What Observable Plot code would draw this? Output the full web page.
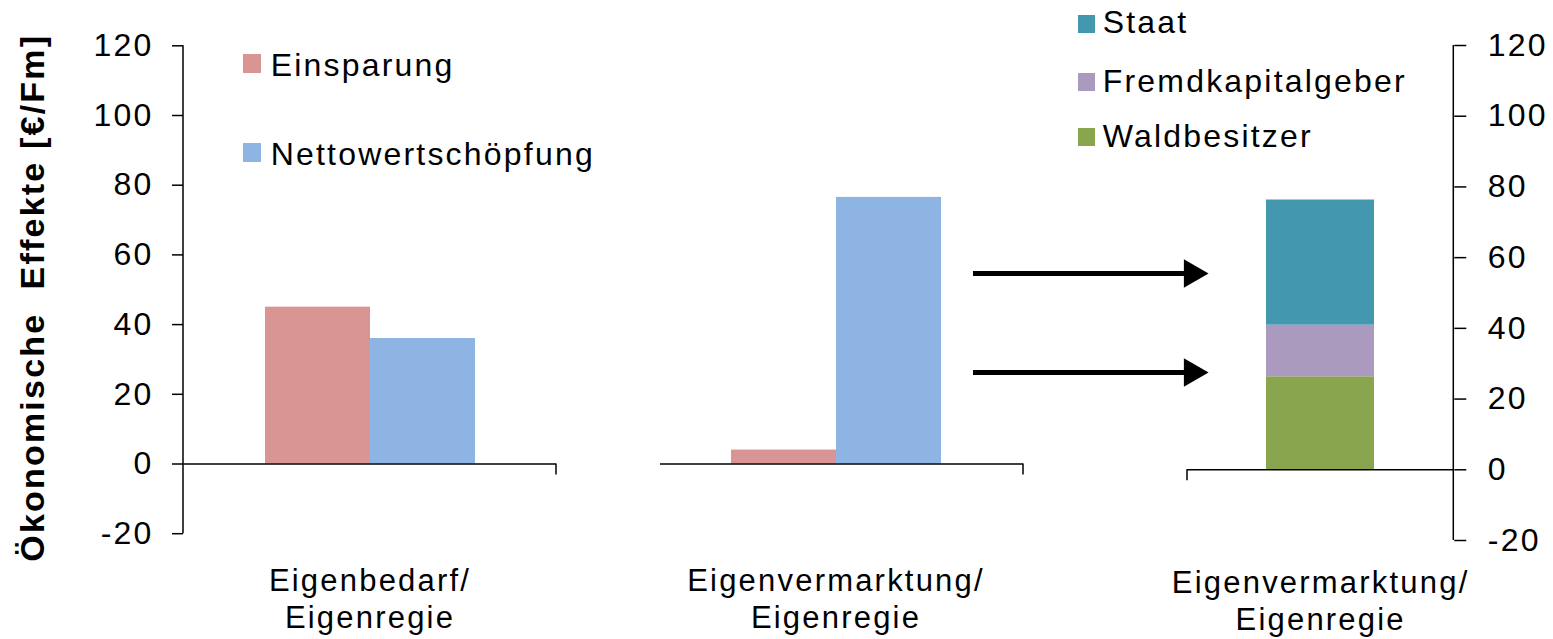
<!DOCTYPE html>
<html>
<head>
<meta charset="utf-8">
<script src="https://cdn.jsdelivr.net/npm/d3@7"></script>
<script src="https://cdn.jsdelivr.net/npm/@observablehq/plot@0.6"></script>
<style>
  body { margin: 0; background: #fff; }
  #chart { position: relative; width: 1553px; height: 639px; font-family: "Liberation Sans", Arial, sans-serif; }
  #chart svg { position: absolute; left: 0; top: 0; }
  .legend-item { position: absolute; font-size: 32px; line-height: 32px; letter-spacing: 2.2px; white-space: nowrap; color: #000; }
  .legend-item .swatch { position: absolute; }
</style>
</head>
<body>
<div id="chart"></div>
<script>
// Values in €/Fm
const yTitle = "Ökonomische  Effekte [€/Fm]";
const yTicks = [-20, 0, 20, 40, 60, 80, 100, 120];

const groupSeries = ["Einsparung", "Nettowertschöpfung"];
const groupColors = ["#d99594", "#8eb4e3"];
const groupCategories = ["Eigenbedarf/\nEigenregie", "Eigenvermarktung/\nEigenregie"];
const einsparung = [45, 4];
const nettowertschoepfung = [36, 76.5];

const shareCategory = "Eigenvermarktung/\nEigenregie";
const shareSeries = ["Waldbesitzer", "Fremdkapitalgeber", "Staat"];
const shareColors = ["#89a54e", "#aa9bbe", "#4397af"];
const shareValues = [26.3, 14.6, 35.4];

// levels at which the split of the value added is pointed out
const arrowLevels = [55.5, 27.5];

const W = 1553, H = 639;
const baseStyle = {
  fontFamily: '"Liberation Sans", Arial, sans-serif',
  fontSize: "32px",
  letterSpacing: "2.2px",
  background: "transparent",
  overflow: "visible",
  color: "#000"
};
const fmt = d => String(d);

// value axis line, plus the small category-boundary ticks below the zero line
function axisLines({left = false, right = false, ends = []} = {}) {
  return (index, scales, values, dims) => {
    const {y} = scales;
    const {width, marginLeft, marginRight} = dims;
    const g = d3.create("svg:g").attr("stroke", "#000").attr("stroke-width", 1.5);
    const xl = marginLeft, xr = width - marginRight;
    const top = y(d3.max(yTicks)), bottom = y(d3.min(yTicks)), zero = y(0);
    if (left) g.append("line").attr("x1", xl).attr("x2", xl).attr("y1", top).attr("y2", bottom);
    if (right) g.append("line").attr("x1", xr).attr("x2", xr).attr("y1", top).attr("y2", bottom);
    for (const e of ends) {
      const x = e === "left" ? xl : xr;
      g.append("line").attr("x1", x).attr("x2", x).attr("y1", zero).attr("y2", zero + 11);
    }
    return g.node();
  };
}

const groupRows = groupCategories.map((c, i) => [
  {category: c, series: groupSeries[0], value: einsparung[i]},
  {category: c, series: groupSeries[1], value: nettowertschoepfung[i]}
]);

const leftFrame = {marginTop: 45.3, marginBottom: H - 533.2};
const rightFrame = {marginTop: 45, marginBottom: H - 540};

// Left panel: own consumption, with the value axis
const plotA = Plot.plot({
  width: W, height: H,
  marginLeft: 183, marginRight: W - 556, ...leftFrame,
  style: baseStyle,
  x: {domain: groupSeries, paddingInner: 0, paddingOuter: 0.768, axis: null},
  y: {domain: [-20, 120], axis: null},
  color: {domain: groupSeries, range: groupColors},
  marks: [
    Plot.barY(groupRows[0], {x: "series", y: "value", fill: "series"}),
    Plot.ruleY([0], {stroke: "#000", strokeWidth: 1.5}),
    Plot.axisY({ticks: yTicks, tickSize: 11, tickPadding: 19, tickFormat: fmt, strokeWidth: 1.5, label: null}),
    axisLines({left: true, ends: ["right"]}),
    Plot.text([yTitle], {text: d => d, frameAnchor: "left", textAnchor: "middle", rotate: -90, dx: -150, dy: 8, fontWeight: "bold", fontSize: 34}),
    Plot.text([groupCategories[0]], {text: d => d, frameAnchor: "bottom", lineAnchor: "top", dy: 31, lineHeight: 1.19, fontSize: 31})
  ]
});

// Middle panel: own marketing
const plotB = Plot.plot({
  width: W, height: H,
  marginLeft: 660, marginRight: W - 1023, ...leftFrame,
  style: baseStyle,
  x: {domain: groupSeries, paddingInner: 0, paddingOuter: 0.72, align: 0.467, axis: null},
  y: {domain: [-20, 120], axis: null},
  color: {domain: groupSeries, range: groupColors},
  marks: [
    Plot.barY(groupRows[1], {x: "series", y: "value", fill: "series"}),
    Plot.ruleY([0], {stroke: "#000", strokeWidth: 1.5}),
    axisLines({ends: ["right"]}),
    Plot.text([groupCategories[1]], {text: d => d, frameAnchor: "bottom", lineAnchor: "top", dy: 31, dx: -6, lineHeight: 1.19, fontSize: 31})
  ]
});

// Right panel: distribution of the value added, stacked
const shareRows = shareSeries.map((s, i) => ({category: shareCategory, series: s, value: shareValues[i]}));
const plotC = Plot.plot({
  width: W, height: H,
  marginLeft: 1187, marginRight: W - 1453.3, ...rightFrame,
  style: baseStyle,
  x: {domain: [shareCategory], paddingInner: 0, paddingOuter: 0.731, axis: null},
  y: {domain: [-20, 120], axis: null},
  color: {domain: shareSeries, range: shareColors},
  marks: [
    Plot.barY(shareRows, {x: "category", y: "value", fill: "series"}),
    Plot.ruleY([0], {stroke: "#000", strokeWidth: 1.5}),
    Plot.axisY({anchor: "right", ticks: yTicks, tickSize: 12, tickPadding: 22, tickFormat: fmt, strokeWidth: 1.5, label: null}),
    axisLines({right: true, ends: ["left"]}),
    Plot.text([shareCategory], {text: d => d, frameAnchor: "bottom", lineAnchor: "top", dy: 26.6, lineHeight: 1.19, fontSize: 31})
  ]
});

// Arrows linking the value added to its split
const plotD = Plot.plot({
  width: W, height: H,
  marginLeft: 973, marginRight: W - 1208, ...rightFrame,
  style: baseStyle,
  x: {domain: [0, 1], axis: null},
  y: {domain: [-20, 120], axis: null},
  marks: [
    Plot.ruleY(arrowLevels, {y: d => d, x1: 0, x2: 1, stroke: "#000", strokeWidth: 5, insetRight: 20}),
    Plot.dot(arrowLevels, {x: 1, y: d => d, symbol: "triangle", rotate: 90, r: 10.6, fill: "#000", dx: -16.4})
  ]
});

const chart = document.getElementById("chart");
for (const p of [plotA, plotB, plotC, plotD]) chart.appendChild(p);

// Legends
function legend(items, colors, {left, textLeft, tops, swatch}) {
  items.forEach((name, i) => {
    const div = document.createElement("div");
    div.className = "legend-item";
    div.style.left = textLeft + "px";
    div.style.top = tops[i] + "px";
    div.textContent = name;
    const sw = document.createElement("span");
    sw.className = "swatch";
    sw.style.left = (left - textLeft) + "px";
    sw.style.top = swatch.top + "px";
    sw.style.width = swatch.w + "px";
    sw.style.height = swatch.h + "px";
    sw.style.background = colors[i];
    div.appendChild(sw);
    chart.appendChild(div);
  });
}
legend(groupSeries, groupColors, {left: 242.7, textLeft: 270.7, tops: [48.9, 137.9], swatch: {top: 5.1, w: 18, h: 19}});
legend(shareSeries.slice().reverse(), shareColors.slice().reverse(),
  {left: 1078, textLeft: 1102.7, tops: [6.2, 64.6, 119.6], swatch: {top: 8.8, w: 17, h: 18}});
</script>
</body>
</html>
